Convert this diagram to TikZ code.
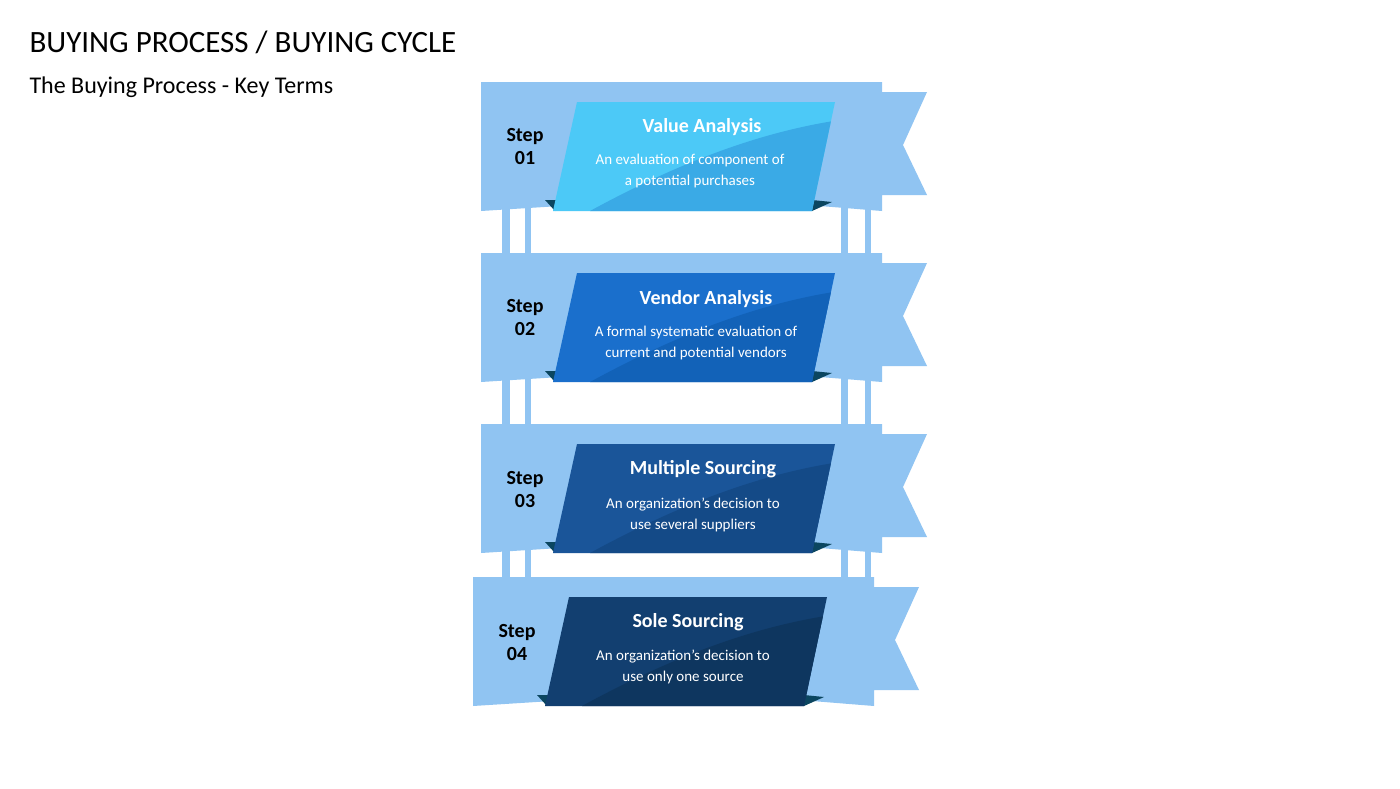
\documentclass[tikz,border=0pt]{standalone}
\usepackage{fontspec}
\setmainfont{Carlito}
\definecolor{lb}{HTML}{90C4F2}
\definecolor{fold}{HTML}{0B4660}
\definecolor{cA}{HTML}{4CC9F7}
\definecolor{cAd}{HTML}{3AAAE6}
\definecolor{cB}{HTML}{1A6FCC}
\definecolor{cBd}{HTML}{1262B8}
\definecolor{cC}{HTML}{1A5599}
\definecolor{cCd}{HTML}{144A87}
\definecolor{cD}{HTML}{123F70}
\definecolor{cDd}{HTML}{0E365F}
\tikzset{
  steplbl/.style={font=\bfseries\fontsize{20}{23}\selectfont, align=center, text=black},
  ttl/.style={font=\bfseries\fontsize{20}{22}\selectfont, text=white},
  dsc/.style={font=\fontsize{15}{21}\selectfont, text=white, align=center},
  pillar/.style={fill=lb}
}
\newcommand{\banner}[6]{% dx, top y, color, darker color, name, step
  \begin{scope}[shift={(#1,#2)}]
    \fill[lb] (481,0) -- (882,0) -- (882,10) -- (927,10) -- (903,63) -- (927,113) -- (882,113) -- (882,129) -- (820,124) -- (560,124) -- (481,129) -- cycle;
    \fill[fold] (545,118) -- (560,118) -- (555,129) -- cycle;
    \fill[fold] (812,118) -- (832,120) -- (812,129) -- cycle;
    \fill[#3] (577,20) -- (835,20) -- (812,129) -- (553,129) -- cycle;
    \begin{scope}
      \clip (577,20) -- (835,20) -- (812,129) -- (553,129) -- cycle;
      \fill[#4] (590,129) .. controls (680,80) and (760,50) .. (840,38) -- (840,129) -- cycle;
    \end{scope}
    \node[steplbl] (#5s) at (525,65) {Step\\#6};
  \end{scope}
}
\begin{document}
\begin{tikzpicture}[x=1pt,y=-1pt]
\useasboundingbox (0,0) rectangle (1400,788);
\fill[white] (0,0) rectangle (1400,788);
\node[anchor=west, font=\fontsize{31}{34}\selectfont] (title) at (26,42) {BUYING PROCESS / BUYING CYCLE};
\node[anchor=west, font=\fontsize{24}{28}\selectfont] (sub) at (26,87) {The Buying Process - Key Terms};
% pillars
\foreach \y in {205,376,547}{
  \fill[lb] (502,\y) rectangle (510,\y+50);
  \fill[lb] (525,\y) rectangle (531,\y+50);
  \fill[lb] (841,\y) rectangle (848,\y+50);
  \fill[lb] (865,\y) rectangle (871,\y+50);
}
\banner{0}{82}{cA}{cAd}{a}{01}
\banner{0}{253}{cB}{cBd}{b}{02}
\banner{0}{424}{cC}{cCd}{c}{03}
\banner{-8}{577}{cD}{cDd}{d}{04}
\node[ttl] (at) at (702,127) {Value Analysis};
\node[dsc] (ad) at (690,171) {An evaluation of component of\\a potential purchases};
\node[ttl] (bt) at (706,299) {Vendor Analysis};
\node[dsc] (bd) at (696,343) {A formal systematic evaluation of\\current and potential vendors};
\node[ttl] (ct) at (703,469) {Multiple Sourcing};
\node[dsc] (cd) at (693,515) {An organization’s decision to\\use several suppliers};
\node[ttl] (dt) at (688,622) {Sole Sourcing};
\node[dsc] (dd) at (683,667) {An organization’s decision to\\use only one source};
\end{tikzpicture}
\end{document}
